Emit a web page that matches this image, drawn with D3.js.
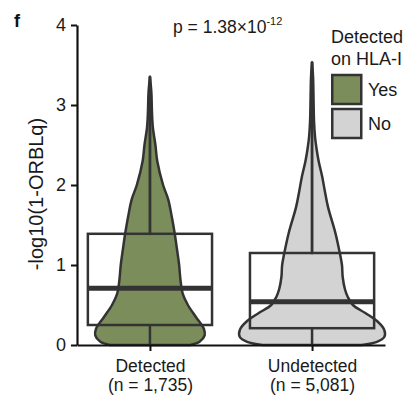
<!DOCTYPE html>
<html>
<head>
<meta charset="utf-8">
<script src="https://cdn.jsdelivr.net/npm/d3@7"></script>
<style>
  html, body { margin: 0; padding: 0; background: #fff; }
  svg { display: block; font-family: "Liberation Sans", Arial, Helvetica, sans-serif; }
</style>
</head>
<body>
<svg id="chart" width="406" height="396"></svg>
<script>
// Groups and their counts
const categories = ["Detected", "Undetected"];
const countLabels = ["(n = 1,735)", "(n = 5,081)"];
const legendLabels = ["Yes", "No"];
const fills = ["#7c8d5c", "#d3d3d3"];

// Box-plot summaries (-log10(1-ORBLq))
const q1 = [0.25, 0.21];
const median = [0.71, 0.54];
const q3 = [1.39, 1.15];
const whiskerLow = [0, 0];
const whiskerHigh = [3.35, 3.53];

// Violin density profiles (relative density at each value)
const detectedValues  = [0, 0.04, 0.12, 0.2, 0.35, 0.5, 0.64, 0.8, 1.0, 1.2, 1.39, 1.6, 1.82, 2.0, 2.3, 2.5, 2.72, 2.93, 3.15, 3.35];
const detectedDensity = [0.55, 0.68, 0.75, 0.74, 0.63, 0.52, 0.45, 0.42, 0.40, 0.37, 0.34, 0.30, 0.25, 0.18, 0.10, 0.075, 0.04, 0.027, 0.02, 0];
const undetectedValues  = [0, 0.04, 0.1, 0.19, 0.3, 0.4, 0.5, 0.6, 0.7, 0.85, 1.0, 1.15, 1.4, 1.72, 1.9, 2.1, 2.3, 2.45, 2.6, 2.8, 3.1, 3.35, 3.53];
const undetectedDensity = [0.68, 0.89, 0.99, 0.99, 0.89, 0.73, 0.56, 0.49, 0.45, 0.42, 0.41, 0.38, 0.32, 0.22, 0.18, 0.14, 0.09, 0.062, 0.041, 0.027, 0.02, 0.014, 0];

const yTicks = [0, 1, 2, 3, 4];

const ink = "#333333";
const svg = d3.select("#chart");

const y = d3.scaleLinear().domain([0, 4]).range([345, 25]);
const x = d3.scalePoint().domain(categories).range([77, 385]).padding(0.45);
const w = d3.scaleLinear().domain([0, 1]).range([0, x.step() * 0.45]);
const boxHalf = x.step() * 0.383;

const violins = [
  { cat: categories[0], values: detectedValues, dens: detectedDensity },
  { cat: categories[1], values: undetectedValues, dens: undetectedDensity }
];

const plot = svg.append("g");

// Violins
violins.forEach((v, i) => {
  const pts = v.values.map((val, k) => ({ val, d: v.dens[k] }));
  const area = d3.area()
    .y(p => y(p.val))
    .x0(p => x(v.cat) - w(p.d))
    .x1(p => x(v.cat) + w(p.d))
    .curve(d3.curveCatmullRom.alpha(0.5));
  plot.append("path")
    .attr("d", area(pts))
    .attr("fill", fills[i])
    .attr("stroke", ink)
    .attr("stroke-width", 2.5)
    .attr("stroke-linejoin", "round");
});

// Boxes, whiskers and medians
categories.forEach((c, i) => {
  const cx = x(c);
  plot.append("rect")
    .attr("x", cx - boxHalf)
    .attr("y", y(q3[i]))
    .attr("width", boxHalf * 2)
    .attr("height", y(q1[i]) - y(q3[i]))
    .attr("fill", "none")
    .attr("stroke", ink)
    .attr("stroke-width", 2.5);
  plot.append("line")
    .attr("x1", cx).attr("x2", cx)
    .attr("y1", y(q3[i])).attr("y2", y(whiskerHigh[i]))
    .attr("stroke", ink).attr("stroke-width", 2.8).attr("stroke-linecap", "round");
  plot.append("line")
    .attr("x1", cx).attr("x2", cx)
    .attr("y1", y(q1[i])).attr("y2", y(whiskerLow[i]))
    .attr("stroke", ink).attr("stroke-width", 2.5);
  plot.append("line")
    .attr("x1", cx - boxHalf).attr("x2", cx + boxHalf)
    .attr("y1", y(median[i])).attr("y2", y(median[i]))
    .attr("stroke", ink).attr("stroke-width", 5);
});

// Axes
const yAxis = svg.append("g")
  .attr("transform", "translate(77,0)")
  .call(d3.axisLeft(y).tickValues(yTicks).tickFormat(d3.format("d")).tickSize(6).tickSizeOuter(0).tickPadding(5));
yAxis.select(".domain").attr("stroke", "#111").attr("stroke-width", 2.2);
yAxis.selectAll(".tick line").attr("stroke", "#111").attr("stroke-width", 2);
yAxis.selectAll(".tick text").attr("font-size", 18).attr("fill", "#1a1a1a")
  .attr("font-family", "'Liberation Sans', Arial, sans-serif");

const xAxis = svg.append("g")
  .attr("transform", "translate(0,345)")
  .call(d3.axisBottom(x).tickSize(6).tickSizeOuter(0));
xAxis.select(".domain").attr("stroke", "#111").attr("stroke-width", 2.2);
xAxis.selectAll(".tick line").attr("stroke", "#111").attr("stroke-width", 2);
xAxis.selectAll(".tick text").remove();
xAxis.selectAll(".tick").each(function (d, i) {
  const t = d3.select(this).append("text")
    .attr("text-anchor", "middle")
    .attr("fill", "#1a1a1a")
    .attr("font-size", 17.5)
    .attr("font-family", "'Liberation Sans', Arial, sans-serif");
  t.append("tspan").attr("x", 0).attr("y", 27).text(d);
  t.append("tspan").attr("x", 0).attr("y", 46).text(countLabels[i]);
});

// Y-axis title
svg.append("text")
  .attr("transform", "translate(43,194) rotate(-90)")
  .attr("text-anchor", "middle")
  .attr("font-size", 20)
  .attr("fill", "#1a1a1a")
  .text("-log10(1-ORBLq)");

// Panel letter
svg.append("text")
  .attr("x", 14).attr("y", 27)
  .attr("font-size", 18).attr("font-weight", "bold")
  .attr("fill", "#111")
  .text("f");

// Significance annotation
const pText = svg.append("text")
  .attr("x", 173).attr("y", 33)
  .attr("font-size", 17.5)
  .attr("fill", "#1a1a1a");
pText.append("tspan").text("p = 1.38×10");
pText.append("tspan").attr("dy", -8).attr("font-size", 11).text("-12");

// Legend
const legend = svg.append("g").attr("transform", "translate(331,0)");
legend.append("text").attr("x", 0).attr("y", 43).attr("font-size", 18).attr("fill", "#1a1a1a").text("Detected");
legend.append("text").attr("x", 0).attr("y", 65).attr("font-size", 18).attr("fill", "#1a1a1a").text("on HLA-I");
legendLabels.forEach((lab, i) => {
  legend.append("rect")
    .attr("x", 1.25).attr("y", 75 + i * 34)
    .attr("width", 29).attr("height", 29)
    .attr("fill", fills[i])
    .attr("stroke", ink).attr("stroke-width", 2.5);
  legend.append("text")
    .attr("x", 37).attr("y", 96 + i * 34)
    .attr("font-size", 18).attr("fill", "#1a1a1a")
    .text(lab);
});
</script>
</body>
</html>
